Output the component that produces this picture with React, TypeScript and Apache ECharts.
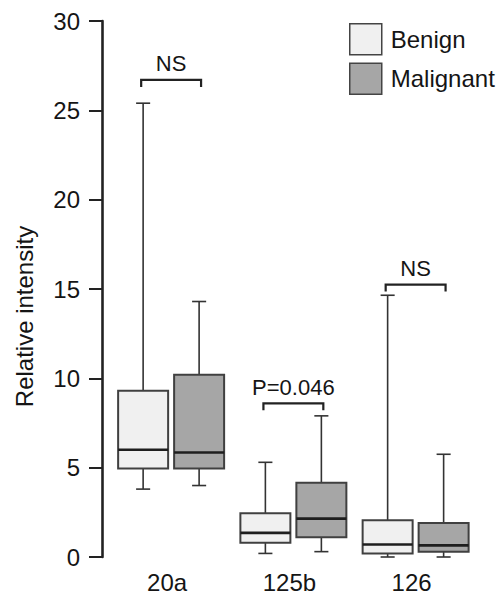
import React, { useEffect, useRef } from 'react';
import * as echarts from 'echarts';

const categories = ['20a', '125b', '126'];
const seriesNames = ['Benign', 'Malignant'];
// each row: [min, Q1, median, Q3, max]
const benignBoxes = [
  [3.8, 4.95, 6.0, 9.3, 25.4],
  [0.2, 0.8, 1.35, 2.45, 5.3],
  [0.0, 0.2, 0.7, 2.05, 14.65],
];
const malignantBoxes = [
  [4.0, 4.95, 5.85, 10.2, 14.3],
  [0.3, 1.1, 2.15, 4.15, 7.9],
  [0.0, 0.3, 0.65, 1.9, 5.75],
];
const significanceLabels = ['NS', 'P=0.046', 'NS'];
const significanceLevels = [26.7, 8.6, 15.25];
const yMin = 0;
const yMax = 30;
const yInterval = 5;

const FONT = '"Liberation Sans", Arial, Helvetica, sans-serif';
const TEXT = '#151515';
const FILLS = ['#f0f0f0', '#a6a6a6'];

function makeBoxRenderer(side: number, fill: string) {
  return (params: any, api: any) => {
    const cat = api.value(0);
    const band = api.size([1, 0])[0];
    const cx = api.coord([cat, 0])[0] + side * 0.229 * band;
    const y = (i: number) => api.coord([cat, api.value(i)])[1];
    const yLo = y(1);
    const yQ1 = y(2);
    const yMed = y(3);
    const yQ3 = y(4);
    const yHi = y(5);
    const bw = 0.409 * band;
    const cap = 0.115 * band;
    const whisker = { stroke: '#333333', lineWidth: 1.6 };
    return {
      type: 'group',
      children: [
        { type: 'line', shape: { x1: cx, y1: yHi, x2: cx, y2: yQ3 }, style: whisker },
        { type: 'line', shape: { x1: cx, y1: yQ1, x2: cx, y2: yLo }, style: whisker },
        { type: 'line', shape: { x1: cx - cap / 2, y1: yHi, x2: cx + cap / 2, y2: yHi }, style: whisker },
        { type: 'line', shape: { x1: cx - cap / 2, y1: yLo, x2: cx + cap / 2, y2: yLo }, style: whisker },
        {
          type: 'rect',
          shape: { x: cx - bw / 2, y: yQ3, width: bw, height: yQ1 - yQ3 },
          style: { fill, stroke: '#404040', lineWidth: 2 },
        },
        {
          type: 'line',
          shape: { x1: cx - bw / 2, y1: yMed, x2: cx + bw / 2, y2: yMed },
          style: { stroke: '#1e1e1e', lineWidth: 2.6 },
        },
      ],
    };
  };
}

function renderSignificance(params: any, api: any) {
  const cat = api.value(0);
  const band = api.size([1, 0])[0];
  const c = api.coord([cat, api.value(1)]);
  const half = 0.245 * band;
  const label = significanceLabels[params.dataIndex];
  return {
    type: 'group',
    children: [
      {
        type: 'polyline',
        shape: {
          points: [
            [c[0] - half, c[1] + 7],
            [c[0] - half, c[1]],
            [c[0] + half, c[1]],
            [c[0] + half, c[1] + 7],
          ],
        },
        style: { stroke: '#222222', lineWidth: 2.2, fill: 'none' },
      },
      {
        type: 'text',
        style: {
          text: label,
          x: c[0],
          y: c[1] - 5,
          align: 'center',
          verticalAlign: 'bottom',
          fontSize: 22,
          fontFamily: FONT,
          fill: TEXT,
        },
      },
    ],
  };
}

export default function App() {
  const ref = useRef<HTMLDivElement>(null);
  useEffect(() => {
    if (!ref.current) return;
    const chart = echarts.init(ref.current, null, { renderer: 'svg' });
    const boxSets = [benignBoxes, malignantBoxes];
    chart.setOption({
      animation: false,
      backgroundColor: '#ffffff',
      textStyle: { fontFamily: FONT },
      grid: { left: 110, width: 366.75, top: 21, bottom: 31, containLabel: false },
      legend: {
        orient: 'vertical',
        left: 349,
        top: 23,
        padding: 0,
        itemWidth: 32,
        itemHeight: 31,
        itemGap: 7,
        icon: 'rect',
        selectedMode: false,
        textStyle: { fontSize: 24, fontFamily: FONT, color: TEXT, padding: [0, 0, 0, 4] },
        data: seriesNames.map((n, i) => ({
          name: n,
          itemStyle: { color: FILLS[i], borderColor: '#444444', borderWidth: 1.5 },
        })),
      },
      xAxis: {
        type: 'category',
        data: categories,
        axisLine: { show: false },
        axisTick: { show: false },
        axisLabel: {
          fontSize: 24,
          fontFamily: FONT,
          color: TEXT,
          margin: 13,
          padding: [0, 8, 0, 0],
        },
      },
      yAxis: {
        type: 'value',
        min: yMin,
        max: yMax,
        interval: yInterval,
        offset: 8,
        name: 'Relative intensity',
        nameLocation: 'middle',
        nameGap: 66,
        nameTextStyle: { fontSize: 24, fontFamily: FONT, color: TEXT, padding: [0, 55, 0, 0] },
        axisLine: { show: true, lineStyle: { color: '#222222', width: 2.6 } },
        axisTick: { show: true, length: 13, lineStyle: { color: '#222222', width: 2 } },
        axisLabel: { fontSize: 24, fontFamily: FONT, color: TEXT, margin: 22 },
        splitLine: { show: false },
      },
      series: [
        ...seriesNames.map((n, s) => ({
          name: n,
          type: 'custom',
          itemStyle: { color: FILLS[s], borderColor: '#444444', borderWidth: 1.5 },
          encode: { x: 0, y: [1, 2, 3, 4, 5] },
          renderItem: makeBoxRenderer(s === 0 ? -1 : 1, FILLS[s]),
          data: boxSets[s].map((b, i) => [i, ...b]),
          clip: false,
        })),
        {
          name: 'significance',
          type: 'custom',
          encode: { x: 0, y: 1 },
          renderItem: renderSignificance,
          data: significanceLevels.map((v, i) => [i, v]),
          clip: false,
        },
      ],
    });
    return () => chart.dispose();
  }, []);
  return (
    <div
      ref={ref}
      style={{ position: 'fixed', left: 0, top: 0, width: 504, height: 594 }}
    />
  );
}
